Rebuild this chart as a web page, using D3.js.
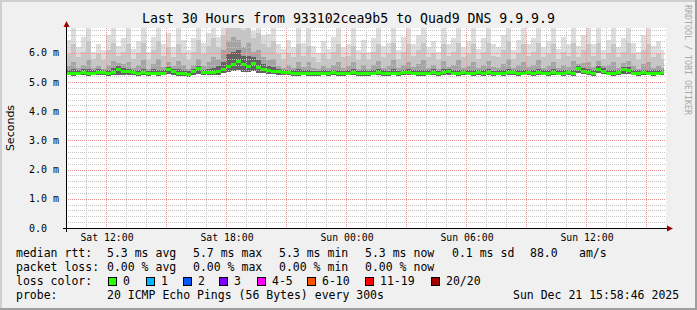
<!DOCTYPE html>
<html><head><meta charset="utf-8">
<script src="https://cdn.jsdelivr.net/npm/d3@7"></script>
<style>body{margin:0;background:#f0f0f0}svg{display:block}</style>
</head><body><svg id="c" width="697" height="310"></svg>
<script>
// ---------- data ----------
const titleText = "Last 30 Hours from 933102cea9b5 to Quad9 DNS 9.9.9.9";
const startTime = Date.UTC(2025, 11, 20, 10, 0, 0);   // Sat 10:00
const endTime = Date.UTC(2025, 11, 21, 16, 0, 0);     // Sun 16:00
const stepMinutes = 15;
const yMax = 6.857; // ms
const yTickValues = [0, 1, 2, 3, 4, 5, 6];
const yTickLabels = ["0.0", "1.0 m", "2.0 m", "3.0 m", "4.0 m", "5.0 m", "6.0 m"];
const xTickTimes = [Date.UTC(2025,11,20,12), Date.UTC(2025,11,20,18), Date.UTC(2025,11,21,0), Date.UTC(2025,11,21,6), Date.UTC(2025,11,21,12)];
const xTickLabels = ["Sat 12:00", "Sat 18:00", "Sun 00:00", "Sun 06:00", "Sun 12:00"];

const medianRtt = [
 5.31,5.30,5.31,5.32,5.30,5.31,5.33,5.32,5.31,5.34,
 5.44,5.38,5.35,5.33,5.31,5.32,5.30,5.31,5.28,5.31,
 5.42,5.36,5.30,5.28,5.27,5.35,5.46,5.33,5.32,5.33,
 5.36,5.45,5.52,5.62,5.70,5.60,5.55,5.63,5.50,5.45,
 5.40,5.38,5.35,5.33,5.32,5.31,5.30,5.31,5.30,5.29,
 5.30,5.31,5.30,5.32,5.29,5.30,5.31,5.33,5.30,5.29,
 5.30,5.31,5.32,5.30,5.29,5.31,5.30,5.32,5.34,5.31,
 5.30,5.29,5.31,5.33,5.30,5.32,5.35,5.31,5.30,5.32,
 5.31,5.30,5.33,5.30,5.32,5.29,5.31,5.30,5.34,5.32,
 5.30,5.31,5.33,5.30,5.32,5.31,5.30,5.33,5.31,5.30,
 5.32,5.30,5.46,5.38,5.32,5.30,5.44,5.36,5.31,5.30,
 5.32,5.43,5.40,5.31,5.30,5.32,5.31,5.30,5.31,5.32];
const minRtt = [
 5.23,5.22,5.23,5.24,5.22,5.23,5.24,5.23,5.22,5.24,
 5.26,5.25,5.24,5.23,5.22,5.23,5.22,5.23,5.20,5.23,
 5.27,5.25,5.22,5.20,5.19,5.24,5.28,5.24,5.23,5.24,
 5.26,5.30,5.34,5.38,5.42,5.36,5.35,5.38,5.33,5.30,
 5.28,5.27,5.25,5.24,5.23,5.22,5.22,5.23,5.22,5.21,
 5.22,5.23,5.22,5.23,5.21,5.22,5.23,5.24,5.22,5.21,
 5.22,5.23,5.23,5.22,5.21,5.23,5.22,5.23,5.24,5.23,
 5.22,5.21,5.23,5.24,5.22,5.23,5.25,5.23,5.22,5.23,
 5.23,5.22,5.24,5.22,5.23,5.21,5.23,5.22,5.24,5.23,
 5.22,5.23,5.24,5.22,5.23,5.23,5.22,5.24,5.23,5.22,
 5.23,5.22,5.30,5.27,5.23,5.22,5.30,5.27,5.23,5.22,
 5.23,5.29,5.28,5.23,5.22,5.23,5.23,5.22,5.23,5.24];
const p60Rtt = [
 5.42,5.45,5.40,5.44,5.46,5.40,5.44,5.42,5.42,5.48,
 5.55,5.50,5.46,5.42,5.43,5.46,5.39,5.44,5.42,5.41,
 5.52,5.46,5.44,5.40,5.38,5.46,5.56,5.43,5.45,5.50,
 5.55,5.70,5.95,6.05,6.10,5.90,5.90,5.85,5.75,5.62,
 5.55,5.52,5.45,5.42,5.42,5.40,5.44,5.41,5.43,5.39,
 5.38,5.42,5.39,5.43,5.42,5.39,5.41,5.45,5.39,5.40,
 5.38,5.42,5.44,5.40,5.39,5.44,5.39,5.43,5.45,5.41,
 5.41,5.42,5.41,5.44,5.39,5.44,5.46,5.42,5.43,5.42,
 5.42,5.42,5.43,5.40,5.44,5.39,5.41,5.42,5.46,5.41,
 5.40,5.43,5.43,5.41,5.44,5.41,5.40,5.44,5.41,5.42,
 5.42,5.43,5.56,5.50,5.44,5.41,5.55,5.47,5.42,5.42,
 5.42,5.53,5.51,5.42,5.40,5.43,5.43,5.40,5.42,5.42];
const p75Rtt = [
 5.55,5.70,5.50,5.60,5.75,5.48,5.55,5.45,5.60,5.72,
 5.65,5.62,5.70,5.50,5.58,5.75,5.45,5.62,5.78,5.52,
 5.70,5.55,5.72,5.58,5.45,5.60,5.80,5.55,5.68,5.85,
 5.80,6.10,6.40,6.55,6.45,6.20,6.35,6.05,6.10,5.85,
 5.75,5.80,5.55,5.48,5.58,5.50,5.70,5.52,5.68,5.50,
 5.45,5.55,5.48,5.60,5.70,5.50,5.55,5.68,5.46,5.58,
 5.45,5.60,5.72,5.50,5.55,5.75,5.48,5.60,5.70,5.52,
 5.62,5.75,5.50,5.58,5.45,5.72,5.52,5.60,5.75,5.50,
 5.55,5.70,5.48,5.60,5.72,5.52,5.50,5.62,5.78,5.48,
 5.58,5.70,5.52,5.60,5.75,5.50,5.55,5.70,5.48,5.60,
 5.52,5.72,5.62,5.65,5.70,5.52,5.72,5.55,5.58,5.70,
 5.50,5.65,5.72,5.55,5.45,5.62,5.70,5.50,5.55,5.48];
const p90Rtt = [
 5.95,6.30,5.85,6.05,6.40,5.80,5.95,5.75,6.10,6.35,
 5.90,6.05,6.30,5.80,6.00,6.35,5.75,6.10,6.40,5.90,
 6.20,5.85,6.30,6.00,5.75,6.05,6.45,5.95,6.25,6.50,
 6.20,6.60,6.86,6.86,6.86,6.80,6.86,6.50,6.70,6.30,
 6.20,6.40,5.95,5.80,6.00,5.85,6.30,5.90,6.25,5.85,
 5.70,5.95,5.80,6.05,6.30,5.85,5.90,6.25,5.75,6.00,
 5.75,6.05,6.30,5.85,5.95,6.35,5.80,6.05,6.30,5.90,
 6.10,6.35,5.85,6.00,5.75,6.30,5.90,6.05,6.35,5.85,
 5.95,6.30,5.80,6.05,6.35,5.90,5.85,6.10,6.40,5.80,
 6.00,6.30,5.90,6.05,6.35,5.85,5.95,6.30,5.80,6.05,
 5.90,6.35,5.85,6.10,6.30,5.90,6.35,5.80,6.00,6.30,
 5.85,6.05,6.35,5.95,5.75,6.10,6.30,5.85,5.95,5.80];
const maxRtt = [
 6.45,6.86,6.20,6.55,6.86,6.05,6.30,6.10,6.60,6.86,
 6.25,6.50,6.86,6.15,6.40,6.86,6.05,6.55,6.86,6.30,
 6.70,6.20,6.86,6.45,6.10,6.50,6.86,6.35,6.70,6.86,
 6.55,6.86,6.86,6.86,6.86,6.86,6.86,6.75,6.86,6.60,
 6.65,6.86,6.30,6.15,6.45,6.20,6.86,6.35,6.86,6.25,
 6.00,6.40,6.15,6.55,6.86,6.20,6.30,6.86,6.10,6.45,
 6.05,6.50,6.86,6.25,6.35,6.86,6.10,6.55,6.86,6.30,
 6.60,6.86,6.20,6.40,6.05,6.86,6.30,6.50,6.86,6.20,
 6.40,6.86,6.15,6.50,6.86,6.30,6.20,6.60,6.86,6.10,
 6.45,6.86,6.30,6.50,6.86,6.20,6.40,6.86,6.15,6.55,
 6.30,6.86,6.25,6.60,6.86,6.30,6.86,6.10,6.45,6.86,
 6.20,6.50,6.86,6.35,6.05,6.60,6.86,6.25,6.40,6.10];

const rttStatValues = [5.3, 5.7, 5.3, 5.3, 0.1];
const rttStatNames = ["avg", "max", "min", "now", "sd"];
const amPerSec = 88.0;
const lossStatValues = [0.00, 0.00, 0.00, 0.00];
const lossStatNames = ["avg", "max", "min", "now"];
const lossLabels = ["0", "1", "2", "3", "4-5", "6-10", "11-19", "20/20"];
const lossColors = ["#26ff00", "#00b8ff", "#0059ff", "#7e00ff", "#ff00ff", "#ff5500", "#ff0000", "#a10000"];
const probeText = "20 ICMP Echo Pings (56 Bytes) every 300s";
const stampText = "Sun Dec 21 15:58:46 2025";

// ---------- drawing ----------
const svg = d3.select("#c");
const W = 697, H = 310;
const mono = "'DejaVu Sans Mono', monospace";
const L = 66, R = 666, T = 28, B = 228;

svg.append("rect").attr("width", W).attr("height", H).attr("fill", "#f0f0f0");
// 3D frame
svg.append("rect").attr("x", 0).attr("y", 0).attr("width", W).attr("height", 2).attr("fill", "#cfcfcf");
svg.append("rect").attr("x", 0).attr("y", 0).attr("width", 2).attr("height", H).attr("fill", "#cfcfcf");
svg.append("rect").attr("x", 0).attr("y", H - 2).attr("width", W).attr("height", 2).attr("fill", "#9e9e9e");
svg.append("rect").attr("x", W - 2).attr("y", 0).attr("width", 2).attr("height", H).attr("fill", "#9e9e9e");

const x = d3.scaleUtc().domain([startTime, endTime]).range([L, R]);
const y = d3.scaleLinear().domain([0, yMax]).range([B, T]);

svg.append("rect").attr("x", L).attr("y", T).attr("width", R - L).attr("height", B - T).attr("fill", "#ffffff");

// smoke
const stepMs = stepMinutes * 60000;
const cols = medianRtt.map((m, i) => ({
  t0: startTime + i * stepMs, t1: startTime + (i + 1) * stepMs,
  med: m, lo: minRtt[i], p60: p60Rtt[i], p75: p75Rtt[i], p90: p90Rtt[i], hi: maxRtt[i]
}));
const smokeG = svg.append("g").attr("shape-rendering", "crispEdges");
const layers = [["hi", "#dddddd"], ["p90", "#c6c6c6"], ["p75", "#a4a4a4"], ["p60", "#626262"]];
layers.forEach(([k, col]) => {
  smokeG.selectAll(null).data(cols).enter().append("rect")
    .attr("x", d => x(d.t0)).attr("width", d => Math.max(0, Math.min(x(d.t1), 664) - x(d.t0)))
    .attr("y", d => y(Math.min(d[k], yMax)))
    .attr("height", d => y(d.lo) - y(Math.min(d[k], yMax)))
    .attr("fill", col);
});

// grid
const gridG = svg.append("g").attr("shape-rendering", "crispEdges");
const minorH = d3.range(0.2, yMax, 0.2).filter(v => Math.abs(v - Math.round(v)) > 0.01);
gridG.selectAll(null).data(minorH).enter().append("line")
  .attr("x1", L).attr("x2", R).attr("y1", d => Math.round(y(d)) + 0.5).attr("y2", d => Math.round(y(d)) + 0.5)
  .attr("stroke", "#c4c4c4").attr("stroke-dasharray", "1,1");
const hours = d3.utcHour.range(startTime + 1, endTime);
gridG.selectAll(null).data(hours.filter(h => h.getUTCHours() % 3 !== 0)).enter().append("line")
  .attr("y1", T).attr("y2", B).attr("x1", d => Math.round(x(d)) + 0.5).attr("x2", d => Math.round(x(d)) + 0.5)
  .attr("stroke", "#c4c4c4").attr("stroke-dasharray", "1,1");
gridG.selectAll(null).data(yTickValues.filter(v => v > 0)).enter().append("line")
  .attr("x1", L).attr("x2", R).attr("y1", d => Math.round(y(d)) + 0.5).attr("y2", d => Math.round(y(d)) + 0.5)
  .attr("stroke", "#eb9090").attr("stroke-dasharray", "1,1");
gridG.selectAll(null).data(hours.filter(h => h.getUTCHours() % 3 === 0)).enter().append("line")
  .attr("y1", T).attr("y2", B).attr("x1", d => Math.round(x(d)) + 0.5).attr("x2", d => Math.round(x(d)) + 0.5)
  .attr("stroke", "#eb9090").attr("stroke-dasharray", "1,1");

// median line (loss colour 0)
svg.append("g").attr("shape-rendering", "crispEdges").selectAll(null).data(cols).enter().append("rect")
  .attr("x", d => x(d.t0)).attr("width", d => Math.max(0, Math.min(x(d.t1), 664) - x(d.t0)))
  .attr("y", d => y(d.med) - 1.5).attr("height", 3).attr("fill", lossColors[0]);

// axes
const axG = svg.append("g").attr("shape-rendering", "crispEdges");
axG.append("line").attr("x1", L + 0.5).attr("x2", L + 0.5).attr("y1", 24).attr("y2", B + 4).attr("stroke", "#000");
axG.append("line").attr("x1", L - 3).attr("x2", 669).attr("y1", B + 0.5).attr("y2", B + 0.5).attr("stroke", "#000");
svg.append("path").attr("d", `M${L + 0.5},21 L${L + 3.5},27 L${L - 2.5},27 Z`).attr("fill", "#a00000");
svg.append("path").attr("d", `M673,${B + 0.5} L667,${B - 2.5} L667,${B + 3.5} Z`).attr("fill", "#a00000");

// y labels
svg.selectAll(null).data(yTickValues).enter().append("text")
  .attr("x", 29).attr("y", d => y(d) + 3.5).text((d, i) => yTickLabels[i])
  .attr("font-family", mono).attr("font-size", 10).attr("fill", "#000");
// x labels
svg.selectAll(null).data(xTickTimes).enter().append("text")
  .attr("x", d => x(d) + 1).attr("y", 241).attr("text-anchor", "middle").text((d, i) => xTickLabels[i])
  .attr("font-family", mono).attr("font-size", 9.8).attr("fill", "#000");

// title
svg.append("text").attr("x", 348.5).attr("y", 23).attr("text-anchor", "middle").text(titleText)
  .attr("font-family", mono).attr("font-size", 13.2).attr("fill", "#000");
// y title
svg.append("text").attr("transform", "translate(14,128) rotate(-90)").attr("text-anchor", "middle")
  .text("Seconds").attr("font-family", "'DejaVu Sans', sans-serif").attr("font-size", 11).attr("fill", "#000");
// watermark
svg.append("text").attr("transform", "translate(685,5) rotate(90)").text("RRDTOOL / TOBI OETIKER")
  .attr("font-family", mono).attr("font-size", 8.3).attr("fill", "#a8a8a8");

// legend
const lf = 11.5;
function txt(xp, yp, s) {
  return svg.append("text").attr("x", xp).attr("y", yp).text(s).attr("font-family", mono)
    .attr("font-size", lf).attr("fill", "#000").attr("xml:space", "preserve");
}
const colX = [107, 193, 279, 365, 452];
txt(16, 257, "median rtt:");
rttStatValues.forEach((v, i) => txt(colX[i], 257, `${v.toFixed(1)} ms ${rttStatNames[i]}`));
txt(530, 257, amPerSec.toFixed(1));
txt(579, 257, "am/s");
txt(16, 271, "packet loss:");
lossStatValues.forEach((v, i) => txt(colX[i], 271, `${v.toFixed(2)} % ${lossStatNames[i]}`));
txt(16, 285, "loss color:");
const boxX = [108, 146, 183, 219, 257, 307, 365, 431];
lossLabels.forEach((lab, i) => {
  svg.append("rect").attr("x", boxX[i] + 0.5).attr("y", 277.5).attr("width", 8).attr("height", 8)
    .attr("fill", lossColors[i]).attr("stroke", "#000").attr("stroke-width", 1);
  txt(boxX[i] + 15, 285, lab);
});
txt(16, 299, "probe:");
txt(107, 299, probeText);
txt(513, 299, stampText);
</script></body></html>
